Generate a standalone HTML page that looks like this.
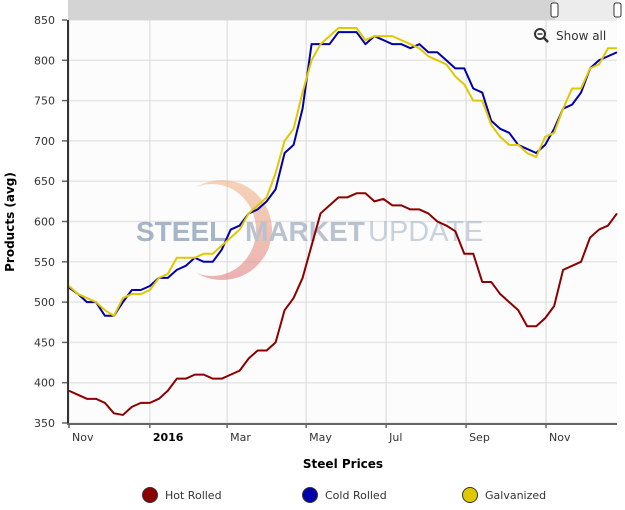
<!DOCTYPE html>
<html><head><meta charset="utf-8"><style>
body{margin:0;background:#fff;font-family:"Liberation Sans",Verdana,sans-serif}
svg text{font-family:"DejaVu Sans","Liberation Sans",sans-serif}
</style></head><body>
<svg id="chart" width="625" height="505" xmlns="http://www.w3.org/2000/svg">
<defs><linearGradient id="wg" x1="0" y1="0" x2="0" y2="1"><stop offset="0" stop-color="#f2b98a"/><stop offset="1" stop-color="#e08080"/></linearGradient>
<mask id="cm"><rect x="0" y="0" width="625" height="505" fill="#fff"/><ellipse cx="212" cy="230" rx="44" ry="46" fill="#000"/></mask></defs>
<rect x="68" y="20" width="549" height="403" fill="#fcfcfc"/>
<g id="grid"></g>
<g opacity="0.6">
<circle cx="222" cy="230" r="50" fill="url(#wg)" mask="url(#cm)"/>
<text x="136" y="241" font-size="28" font-weight="bold" fill="#6f86a8" style="font-family:'Liberation Sans',sans-serif">STEEL</text>
<text x="245" y="241" font-size="28" font-weight="bold" fill="#8e9db4" style="font-family:'Liberation Sans',sans-serif">MARKET</text>
<text x="368" y="241" font-size="29" fill="#a8b6c8" style="font-family:'Liberation Sans',sans-serif">UPDATE</text>
</g>
<g id="series"></g>
<g id="axes"></g>
<rect x="68" y="0" width="549" height="20" fill="#d4d4d4"/>
<rect x="555" y="0" width="62" height="20" fill="#ececec"/>
<rect x="551" y="3" width="7" height="14" rx="2" fill="#fff" stroke="#333"/>
<rect x="614" y="3" width="7" height="14" rx="2" fill="#fff" stroke="#333"/>
<g>
<circle cx="540" cy="34" r="5" fill="none" stroke="#333" stroke-width="2"/><line x1="537.5" y1="34" x2="542.5" y2="34" stroke="#333" stroke-width="1.5"/><line x1="544" y1="38" x2="548" y2="42" stroke="#333" stroke-width="2.5"/>
<text x="556" y="40" font-size="12" fill="#333">Show all</text></g>
<text transform="translate(14,222) rotate(-90)" text-anchor="middle" font-size="12" font-weight="bold" fill="#000">Products (avg)</text>
<text x="343" y="468" text-anchor="middle" font-size="12" font-weight="bold" fill="#000">Steel Prices</text>
<g id="legend"></g>
</svg>
<script>
const yTicks=[350,400,450,500,550,600,650,700,750,800,850];
const monthLabels=["Nov","2016","Mar","May","Jul","Sep","Nov"];
const monthIdx=[0,9.0,17.6,26.4,35.3,44.2,53.1];
const seriesNames=["Hot Rolled","Cold Rolled","Galvanized"];
const hotRolled=[390,385,380,380,375,362,360,370,375,375,380,390,405,405,410,410,405,405,410,415,430,440,440,450,490,505,530,570,610,620,630,630,635,635,625,628,620,620,615,615,610,600,595,588,560,560,525,525,510,500,490,470,470,480,495,540,545,550,580,590,595,610];
const coldRolled=[518,510,500,500,483,483,500,515,515,520,530,530,540,545,555,550,550,565,590,595,610,615,625,640,685,695,740,820,820,820,835,835,835,820,830,825,820,820,815,820,810,810,800,790,790,765,760,725,715,710,695,690,685,695,715,740,745,760,790,800,805,810];
const galvanized=[520,510,505,500,490,483,505,510,510,515,530,535,555,555,555,560,560,570,580,590,610,620,630,660,700,715,760,800,820,830,840,840,840,825,830,830,830,825,820,815,805,800,795,780,770,750,750,720,705,695,695,685,680,705,710,740,765,765,790,795,815,815];
const colors=["#8b0000","#0000aa","#e0c800"];
const NS="http://www.w3.org/2000/svg";
const X0=69,X1=617,Y0=423,Y1=20;
const n=hotRolled.length;
function xs(i){return X0+(X1-X0)*i/(n-1);}
function ys(v){return Y0-(v-350)/(850-350)*(Y0-Y1);}
function mk(t,a,p){const e=document.createElementNS(NS,t);for(const k in a)e.setAttribute(k,a[k]);p.appendChild(e);return e;}
const grid=document.getElementById('grid'),axes=document.getElementById('axes'),ser=document.getElementById('series'),leg=document.getElementById('legend');
yTicks.forEach(v=>{
 const l=mk('line',{x1:X0,x2:X1,y1:ys(v),y2:ys(v),stroke:'#e6e6e6','stroke-width':1.5},grid);
 
 
 mk('line',{x1:62,x2:67,y1:ys(v),y2:ys(v),stroke:'#666','stroke-width':1.5},axes);
 const t=mk('text',{x:55,y:ys(v)+4,'text-anchor':'end','font-size':11,fill:'#333'},axes);t.textContent=v;
 
 
});
monthLabels.forEach((m,k)=>{
 const x=xs(monthIdx[k]);
 const l=mk('line',{x1:x,x2:x,y1:Y1,y2:Y0,stroke:'#d8d8d8'},grid);
 
 
 mk('line',{x1:x,x2:x,y1:Y0,y2:Y0+5,stroke:'#666','stroke-width':1.5},axes);
 const t=mk('text',{x:x+3,y:441,'font-size':11,fill:m==="2016"?'#000':'#333','font-weight':m==="2016"?'bold':'normal'},axes);t.textContent=m;
 
 
});
mk('line',{x1:68,x2:68,y1:20,y2:424,stroke:'#333','stroke-width':2},axes);
mk('line',{x1:67,x2:617,y1:424,y2:424,stroke:'#666','stroke-width':2},axes);
[hotRolled,coldRolled,galvanized].forEach((d,s)=>{
 const p=mk('polyline',{points:d.map((v,i)=>xs(i)+','+ys(v)).join(' '),fill:'none',stroke:colors[s],'stroke-width':2,'stroke-linejoin':'round'},ser);
 
 
});
const lx=[150,310,470];
seriesNames.forEach((nm,s)=>{
 const g=mk('g',{},leg);
 
 
 mk('circle',{cx:lx[s],cy:495,r:7.5,fill:colors[s],stroke:'#333','stroke-width':1},g);
 const t=mk('text',{x:lx[s]+15,y:499,'font-size':11,fill:'#333'},g);t.textContent=nm;
});
</script>
</body></html>
